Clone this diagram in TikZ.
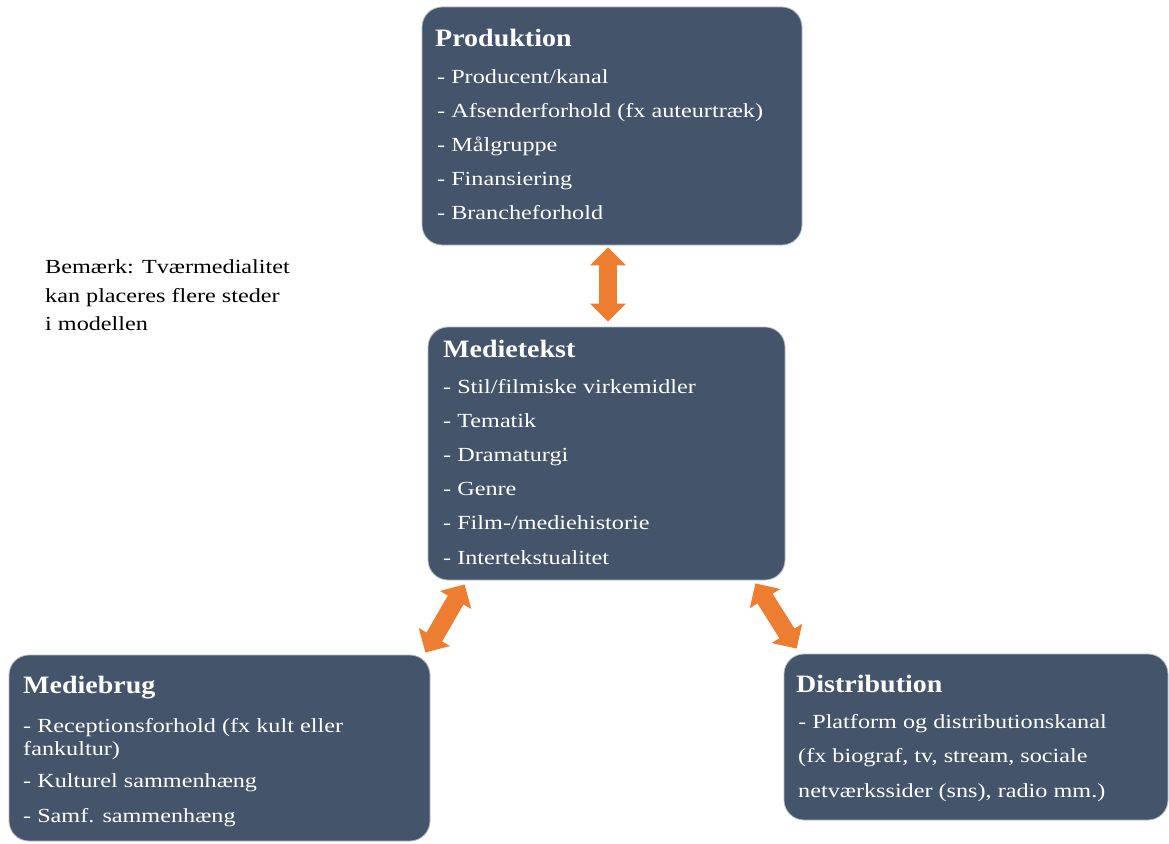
\documentclass[tikz,border=0pt]{standalone}
\usepackage{fontspec}
\setmainfont[FakeStretch=1.21]{Liberation Serif}
\newfontfamily\headfont[FakeStretch=1.12]{Liberation Serif}
\usetikzlibrary{arrows.meta}
\definecolor{slate}{HTML}{44546A}
\definecolor{orangeA}{HTML}{ED7D31}
\begin{document}
\begin{tikzpicture}[x=1pt,y=-1pt,
  box/.style={rounded corners=20pt,fill=slate,draw=slate!40,line width=0.8pt,inner sep=0pt},
  head/.style={anchor=base west,inner sep=0pt,text=white,font=\headfont\fontsize{25}{30}\selectfont\bfseries},
  item/.style={anchor=base west,inner sep=0pt,text=white,font=\fontsize{20}{24}\selectfont},
  link/.style={orangeA,line width=18pt,{Triangle[width=35pt,length=18pt]}-{Triangle[width=35pt,length=18pt]}}]
\useasboundingbox (0,0) rectangle (1169,843);
% the four boxes
\node[box,minimum width=380pt,minimum height=238pt] (prod) at (612,126) {};
\node[box,minimum width=357pt,minimum height=253pt] (tekst) at (606.5,453.5) {};
\node[box,minimum width=421pt,minimum height=186pt] (brug) at (219.5,748) {};
\node[box,minimum width=384pt,minimum height=166pt] (distr) at (976,737) {};
% Produktion
\node[head] (prodhead) at (435,47) {Produktion};
\foreach \txt [count=\i] in {Producent/kanal,Afsenderforhold (fx auteurtræk),Målgruppe,Finansiering,Brancheforhold}
  \node[item] (prod\i) at (437,83+34*\i-34) {- \txt};
% Medietekst
\node[head] (tekshead) at (443,357) {Medietekst};
\foreach \txt [count=\i] in {Stil/filmiske virkemidler,Tematik,Dramaturgi,Genre,Film-/mediehistorie,Intertekstualitet}
  \node[item] (tekst\i) at (443,393+34.2*\i-34.2) {- \txt};
% Mediebrug
\node[head] (brughead) at (23,693) {Mediebrug};
\foreach \y/\txt [count=\i] in {732/{- Receptionsforhold (fx kult eller},755/fankultur),787/- Kulturel sammenhæng,822/- Samf. sammenhæng}
  \node[item] (brug\i) at (23,\y) {\txt};
% Distribution
\node[head] (distrhead) at (796,692) {Distribution};
\foreach \y/\txt [count=\i] in {728/- Platform og distributionskanal,762/{(fx biograf, tv, stream, sociale},797/{netværkssider (sns), radio mm.)}}
  \node[item] (distr\i) at (798,\y) {\txt};
% note
\foreach \y/\txt [count=\i] in {273/Bemærk: Tværmedialitet,302/kan placeres flere steder,330/i modellen}
  \node[anchor=base west,inner sep=0pt,font=\fontsize{20}{24}\selectfont] (note\i) at (45,\y) {\txt};
% arrows
\draw[link] ([shift={(-4,2)}]prod.south) -- ([shift={(1.5,-5)}]tekst.north);
\draw[link] ([shift={(37,4)}]tekst.south west) -- ([shift={(-5,-2)}]brug.north east);
\draw[link] ([shift={(-30,3)}]tekst.south east) -- ([shift={(13,-5)}]distr.north west);
\end{tikzpicture}
\end{document}
